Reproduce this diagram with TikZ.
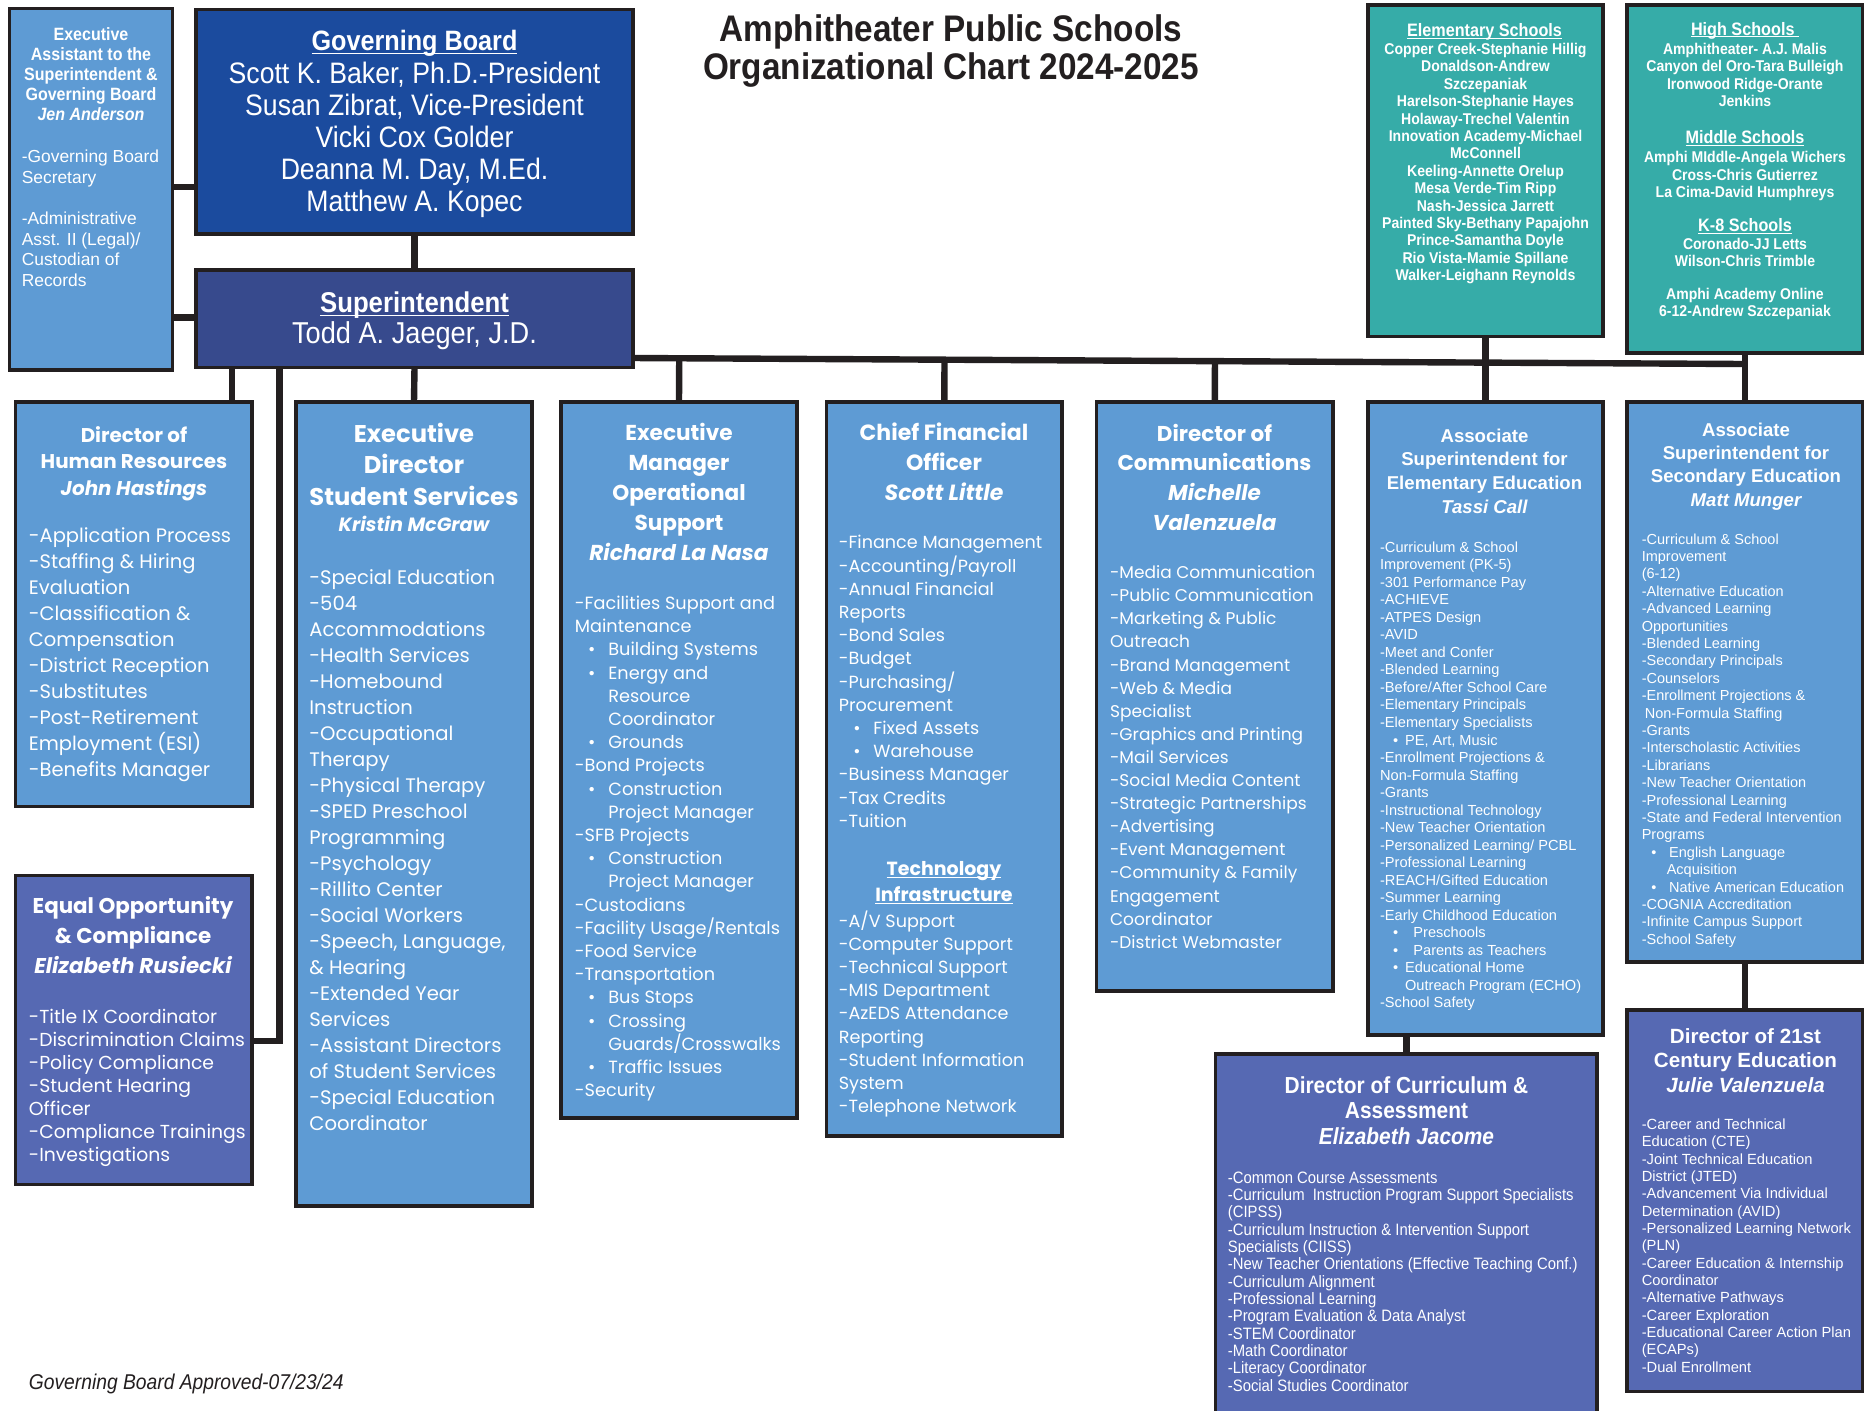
\documentclass[tikz,border=0pt]{standalone}
\usepackage{fontspec}
\usetikzlibrary{calc}
\setmainfont{Liberation Sans}
\newfontfamily\rob[FakeStretch=0.9]{Liberation Sans}
\newfontfamily\pop{Poppins}
\newfontfamily\ari{Liberation Sans}
\definecolor{edge}{HTML}{231F20}
\definecolor{lblue}{HTML}{5E9BD4}
\definecolor{gblue}{HTML}{1B4B9E}
\definecolor{sblue}{HTML}{374A8D}
\definecolor{slate}{HTML}{5669B3}
\definecolor{tealbox}{HTML}{36ACA8}
\newcommand\fz[2]{\fontsize{#1pt}{#2pt}\selectfont}
\newcommand\bl[2]{\hspace*{#1pt}\makebox[#2pt][l]{\textbullet}}
\newcommand\ind[1]{\hspace*{#1pt}}
% heading underline sitting just below the baseline
\newsavebox\ulbox
\newcommand\uln[1]{\sbox\ulbox{#1}\rlap{\rule[-0.13em]{\wd\ulbox}{0.05em}}\usebox\ulbox}
% box from left/top/right/bottom in pixel units
\newcommand\orgbox[6]{\node[box, fill=#6, minimum width={(#4-#2)*0.5pt}, minimum height={(#5-#3)*0.5pt}] (#1) at (#2,#3) {};}
\pgfdeclarelayer{back}
\pgfdeclarelayer{bg}
\pgfsetlayers{back,bg,main}
% text blocks are placed by the baseline of their last line
\tikzset{
  box/.style={draw=edge, line width=1.6pt, inner sep=0pt, outer sep=0pt, anchor=north west},
  conn/.style={draw=edge, line width=3.2pt},
  ctr/.style={text=white, align=center, inner sep=0pt, anchor=base},
  lft/.style={text=white, align=left, inner sep=0pt, anchor=base west},
}
\begin{document}
\begin{tikzpicture}[x=0.5pt, y=-0.5pt]
\useasboundingbox (0,0) rectangle (1865,1410);
\begin{pgfonlayer}{back}
\fill[white] (0,0) rectangle (1865,1410);
\end{pgfonlayer}

% ---------- boxes ----------
\orgbox{exec}{9.5}{8.3}{172.5}{370}{lblue}
\orgbox{gov}{196}{9.5}{633}{234}{gblue}
\orgbox{supt}{196}{270}{633}{367.5}{sblue}
\orgbox{hr}{15.5}{402}{252}{806.5}{lblue}
\orgbox{eo}{15.5}{875.5}{252}{1184.6}{slate}
\orgbox{ss}{296}{402}{532}{1206}{lblue}
\orgbox{ops}{561}{402}{797}{1118}{lblue}
\orgbox{cfo}{826.6}{402}{1062}{1136}{lblue}
\orgbox{comm}{1096.6}{402}{1333}{991}{lblue}
\orgbox{ae}{1368}{402}{1603}{1035}{lblue}
\orgbox{as}{1627}{402}{1862.6}{962}{lblue}
\orgbox{es}{1368}{5}{1603}{336.6}{tealbox}
\orgbox{hs}{1627}{5}{1862.6}{353}{tealbox}
\orgbox{curr}{1215.6}{1054}{1597}{1420}{slate}
\orgbox{c21}{1627}{1010}{1862.6}{1391.7}{slate}

% ---------- connectors ----------
\coordinate (busL) at (supt.east |- 0,358);
\coordinate (busR) at (as.north |- 0,364);
\begin{pgfonlayer}{bg}
\draw[conn] (exec.east |- 0,186.7) -- (gov.west |- 0,186.7);
\draw[conn] (exec.east |- 0,317.6) -- (supt.west |- 0,317.6);
\draw[conn] (gov.south) -- (supt.north);
\draw[conn] (busL) -- (busR);
\draw[conn] (supt.south -| 232,0) -- (hr.north -| 232,0);
\draw[conn] (supt.south -| 279.5,0) |- (eo.east |- 0,1040.7);
\draw[conn] (supt.south) -- (ss.north);
\draw[conn] (ops.north) -- ($(busL)!(ops.north)!(busR)$);
\draw[conn] (cfo.north) -- ($(busL)!(cfo.north)!(busR)$);
\draw[conn] (comm.north) -- ($(busL)!(comm.north)!(busR)$);
\draw[conn] (es.south) -- (ae.north);
\draw[conn] (hs.south) -- (as.north);
\draw[conn] (ae.south -| curr.north) -- (curr.north);
\draw[conn] (as.south) -- (c21.north);
\end{pgfonlayer}

% ---------- heading and footer ----------
\node[align=center, inner sep=0pt, anchor=base, text=edge, font=\rob\bfseries\fz{18.5}{19}] (title) at (951,79.4)
  {Amphitheater Public Schools\\Organizational Chart 2024-2025};
\node[inner sep=0pt, anchor=base west, text=edge, font=\rob\itshape\fz{10.7}{12}] (foot) at (28.5,1389)
  {Governing Board Approved-07/23/24};

% ---------- board and superintendent ----------
\node[ctr, font=\rob\bfseries\fz{14}{16}] (govhd) at (414.5,50.8) {\uln{Governing Board}};
\node[ctr, font=\rob\fz{14.8}{16.1}] (govtx) at (414.5,211.8)
  {Scott K. Baker, Ph.D.-President\\Susan Zibrat, Vice-President\\Vicki Cox Golder\\Deanna M. Day, M.Ed.\\Matthew A. Kopec};
\node[ctr, font=\rob\bfseries\fz{14.3}{16}] (supthd) at (414.5,312.4) {\uln{Superintendent}};
\node[ctr, font=\rob\fz{15.1}{16}] (supttx) at (414.5,343.4) {Todd A. Jaeger, J.D.};

\node[ctr, font=\rob\bfseries\fz{8.9}{10.05}] (exectl) at (91,120.8)
  {Executive\\Assistant to the\\Superintendent \&\\Governing Board\\\itshape Jen Anderson};
\node[lft, font=\ari\fz{8.7}{10.3}] (exectx) at (21.4,286.5)
  {-Governing Board\\Secretary\\[10.3pt]-Administrative\\Asst. II (Legal)/\\Custodian of\\Records};

% ---------- human resources ----------
\node[ctr, font=\pop\bfseries\fz{9.95}{13.35}] (hrtl) at (134,495.5)
  {Director of\\Human Resources\\\itshape John Hastings};
\node[lft, font=\pop\fz{9.75}{13}] (hrtx) at (28.5,776.2)
  {-Application Process\\-Staffing \& Hiring\\Evaluation\\-Classification \&\\Compensation\\-District Reception\\-Substitutes\\-Post-Retirement\\Employment (ESI)\\-Benefits Manager};

% ---------- equal opportunity ----------
\node[ctr, font=\pop\bfseries\fz{10.7}{15}] (eotl) at (133,973.6)
  {Equal Opportunity\\\& Compliance\\\itshape Elizabeth Rusiecki};
\node[lft, font=\pop\fz{9.4}{11.5}] (eotx) at (28.5,1161.5)
  {-Title IX Coordinator\\-Discrimination Claims\\-Policy Compliance\\-Student Hearing\\Officer\\-Compliance Trainings\\-Investigations};

% ---------- student services ----------
\node[ctr, font=\pop\bfseries\fz{12.1}{15.75}] (sstl) at (414,505)
  {Executive\\Director\\Student Services};
\node[ctr, font=\pop\bfseries\itshape\fz{9.6}{12}] (ssnm) at (414,531.7) {Kristin McGraw};
\node[lft, font=\pop\fz{9.8}{13}] (sstx) at (309,1130.5)
  {-Special Education\\-504\\Accommodations\\-Health Services\\-Homebound\\Instruction\\-Occupational\\Therapy\\-Physical Therapy\\-SPED Preschool\\Programming\\-Psychology\\-Rillito Center\\-Social Workers\\-Speech, Language,\\\& Hearing\\-Extended Year\\Services\\-Assistant Directors\\of Student Services\\-Special Education\\Coordinator};

% ---------- operational support ----------
\node[ctr, font=\pop\bfseries\fz{10.8}{15}] (opstl) at (679,560.9)
  {Executive\\Manager\\Operational\\Support\\\itshape Richard La Nasa};
\node[lft, font=\pop\fz{8.85}{11.6}] (opstx) at (574.5,1096.7)
  {-Facilities Support and\\Maintenance\\\bl{6.55}{10.2}Building Systems\\\bl{6.55}{10.2}Energy and\\\ind{16.75}Resource\\\ind{16.75}Coordinator\\\bl{6.55}{10.2}Grounds\\-Bond Projects\\\bl{6.55}{10.2}Construction\\\ind{16.75}Project Manager\\-SFB Projects\\\bl{6.55}{10.2}Construction\\\ind{16.75}Project Manager\\-Custodians\\-Facility Usage/Rentals\\-Food Service\\-Transportation\\\bl{6.55}{10.2}Bus Stops\\\bl{6.55}{10.2}Crossing\\\ind{16.75}Guards/Crosswalks\\\bl{6.55}{10.2}Traffic Issues\\-Security};

% ---------- finance ----------
\node[ctr, font=\pop\bfseries\fz{11}{14.85}] (cfotl) at (944,500.3)
  {Chief Financial\\Officer\\\itshape Scott Little};
\node[lft, font=\pop\fz{8.8}{11.6}] (cfotx) at (838.5,827.2)
  {-Finance Management\\-Accounting/Payroll\\-Annual Financial\\Reports\\-Bond Sales\\-Budget\\-Purchasing/\\Procurement\\\bl{7.25}{10}Fixed Assets\\\bl{7.25}{10}Warehouse\\-Business Manager\\-Tax Credits\\-Tuition};
\node[ctr, font=\pop\bfseries\fz{9.5}{13.25}] (techhd) at (944,875.2) {\uln{Technology}};
\node[ctr, font=\pop\bfseries\fz{9.5}{13.25}] (techhd2) at (944,901.7) {\uln{Infrastructure}};
\node[lft, font=\pop\fz{8.8}{11.6}] (techtx) at (838.5,1112.6)
  {-A/V Support\\-Computer Support\\-Technical Support\\-MIS Department\\-AzEDS Attendance\\Reporting\\-Student Information\\System\\-Telephone Network};

% ---------- communications ----------
\node[ctr, font=\pop\bfseries\fz{10.75}{14.85}] (commtl) at (1214.5,530.1)
  {Director of\\Communications\\\itshape Michelle\\\itshape Valenzuela};
\node[lft, font=\pop\fz{8.5}{11.55}] (commtx) at (1109.7,948.2)
  {-Media Communication\\-Public Communication\\-Marketing \& Public\\Outreach\\-Brand Management\\-Web \& Media\\Specialist\\-Graphics and Printing\\-Mail Services\\-Social Media Content\\-Strategic Partnerships\\-Advertising\\-Event Management\\-Community \& Family\\Engagement\\Coordinator\\-District Webmaster};

% ---------- elementary education ----------
\node[ctr, font=\ari\bfseries\fz{9.3}{11.9}] (aetl) at (1484.5,513.4)
  {Associate\\Superintendent for\\Elementary Education\\\itshape Tassi Call};
\node[lft, font=\ari\fz{7.3}{8.76}] (aetx) at (1379.7,1007.8)
  {-Curriculum \& School\\Improvement (PK-5)\\-301 Performance Pay\\-ACHIEVE\\-ATPES Design\\-AVID\\-Meet and Confer\\-Blended Learning\\-Before/After School Care\\-Elementary Principals\\-Elementary Specialists\\\bl{6.55}{5.95}PE, Art, Music\\-Enrollment Projections \&\\Non-Formula Staffing\\-Grants\\-Instructional Technology\\-New Teacher Orientation\\-Personalized Learning/ PCBL\\-Professional Learning\\-REACH/Gifted Education\\-Summer Learning\\-Early Childhood Education\\\bl{6.55}{10.1}Preschools\\\bl{6.55}{10.1}Parents as Teachers\\\bl{6.55}{5.95}Educational Home\\\ind{12.5}Outreach Program (ECHO)\\-School Safety};

% ---------- secondary education ----------
\node[ctr, font=\ari\bfseries\fz{9.3}{11.7}] (astl) at (1746,506.3)
  {Associate\\Superintendent for\\Secondary Education\\\itshape Matt Munger};
\node[lft, font=\ari\fz{7.25}{8.7}] (astx) at (1641.4,944.2)
  {-Curriculum \& School\\Improvement\\(6-12)\\-Alternative Education\\-Advanced Learning\\Opportunities\\-Blended Learning\\-Secondary Principals\\-Counselors\\-Enrollment Projections \&\\\ind{1.5}Non-Formula Staffing\\-Grants\\-Interscholastic Activities\\-Librarians\\-New Teacher Orientation\\-Professional Learning\\-State and Federal Intervention\\Programs\\\bl{4.75}{8.95}English Language\\\ind{12.5}Acquisition\\\bl{4.75}{8.95}Native American Education\\-COGNIA Accreditation\\-Infinite Campus Support\\-School Safety};

% ---------- schools ----------
\node[ctr, font=\rob\bfseries\fz{9}{10}] (eshd) at (1484.5,36.2) {\uln{Elementary Schools}};
\node[ctr, font=\rob\bfseries\fz{7.8}{8.7}] (estx) at (1485.5,280.6)
  {Copper Creek-Stephanie Hillig\\Donaldson-Andrew\\Szczepaniak\\Harelson-Stephanie Hayes\\Holaway-Trechel Valentin\\Innovation Academy-Michael\\McConnell\\Keeling-Annette Orelup\\Mesa Verde-Tim Ripp\\Nash-Jessica Jarrett\\Painted Sky-Bethany Papajohn\\Prince-Samantha Doyle\\Rio Vista-Mamie Spillane\\Walker-Leighann Reynolds};

\node[ctr, font=\rob\bfseries\fz{9}{10}] (hshd) at (1745,35) {\uln{High Schools\ }};
\node[ctr, font=\rob\bfseries\fz{7.8}{8.7}] (hstx) at (1745,106.6)
  {Amphitheater- A.J. Malis\\Canyon del Oro-Tara Bulleigh\\Ironwood Ridge-Orante\\Jenkins};
\node[ctr, font=\rob\bfseries\fz{9}{10}] (mshd) at (1745,143.3) {\uln{Middle Schools}};
\node[ctr, font=\rob\bfseries\fz{7.8}{8.7}] (mstx) at (1745,197.4)
  {Amphi MIddle-Angela Wichers\\Cross-Chris Gutierrez\\La Cima-David Humphreys};
\node[ctr, font=\rob\bfseries\fz{9}{10}] (k8hd) at (1745,231.3) {\uln{K-8 Schools}};
\node[ctr, font=\rob\bfseries\fz{7.8}{8.7}] (k8tx) at (1745,266.8)
  {Coronado-JJ Letts\\Wilson-Chris Trimble};
\node[ctr, font=\rob\bfseries\fz{7.8}{8.7}] (aotx) at (1745,316.8)
  {Amphi Academy Online\\6-12-Andrew Szczepaniak};

% ---------- curriculum and assessment ----------
\node[ctr, font=\rob\bfseries\fz{11.6}{12.8}] (curtl) at (1406.5,1144.3)
  {Director of Curriculum \&\\Assessment\\\itshape Elizabeth Jacome};
\node[lft, font=\rob\fz{8.25}{8.68}] (curtx) at (1227.5,1391.3)
  {-Common Course Assessments\\-Curriculum\ \ Instruction Program Support Specialists\\(CIPSS)\\-Curriculum Instruction \& Intervention Support\\Specialists (CIISS)\\-New Teacher Orientations (Effective Teaching Conf.)\\-Curriculum Alignment\\-Professional Learning\\-Program Evaluation \& Data Analyst\\-STEM Coordinator\\-Math Coordinator\\-Literacy Coordinator\\-Social Studies Coordinator};

% ---------- 21st century education ----------
\node[ctr, font=\ari\bfseries\fz{10.3}{12.15}] (c21tl) at (1745.5,1092.2)
  {Director of 21st\\Century Education\\\itshape Julie Valenzuela};
\node[lft, font=\ari\fz{7.35}{8.67}] (c21tx) at (1641.4,1372.1)
  {-Career and Technical\\Education (CTE)\\-Joint Technical Education\\District (JTED)\\-Advancement Via Individual\\Determination (AVID)\\-Personalized Learning Network\\(PLN)\\-Career Education \& Internship\\Coordinator\\-Alternative Pathways\\-Career Exploration\\-Educational Career Action Plan\\(ECAPs)\\-Dual Enrollment};
\end{tikzpicture}
\end{document}
